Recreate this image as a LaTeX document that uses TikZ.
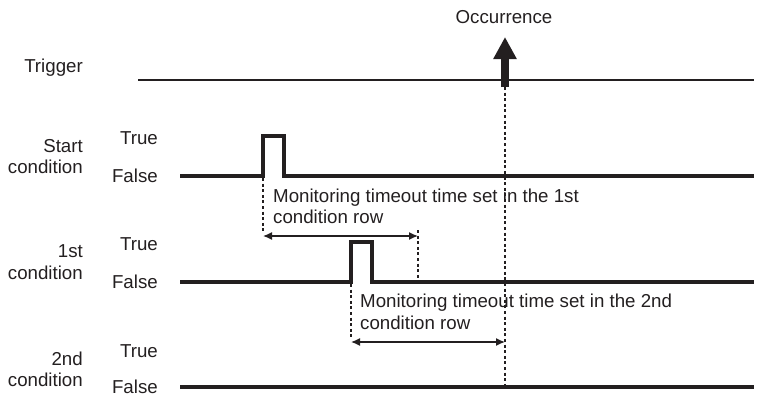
\documentclass[tikz,border=0pt]{standalone}
\usepackage{fontspec}
\setmainfont{Liberation Sans}
\usetikzlibrary{arrows.meta}
\definecolor{ink}{HTML}{231F20}
\begin{document}
\begin{tikzpicture}[x=1pt,y=-1pt,
  lbl/.style={font=\fontsize{18.7}{21}\selectfont, inner sep=0pt, text=ink},
  rowlbl/.style={lbl, anchor=base east},
  tf/.style={lbl, anchor=base east},
  note/.style={lbl, anchor=base west},
  wave/.style={draw=ink, line width=3.3pt, line join=miter},
  thin/.style={draw=ink, line width=1.6pt},
  dots/.style={draw=ink, line width=1.8pt, dash pattern=on 3pt off 2.6pt},
  span/.style={draw=ink, fill=ink, line width=1.4pt, {Latex[length=9pt,width=8pt]}-{Latex[length=9pt,width=8pt]}}
]
\useasboundingbox (0,0) rectangle (764,397);

% labels
\node[lbl, anchor=base] (occ) at (504,23) {Occurrence};
\node[rowlbl] (trig) at (83,72) {Trigger};
\node[rowlbl] (startc1) at (83,152) {Start};
\node[rowlbl] (startc2) at (83,173) {condition};
\node[rowlbl] (firstc1) at (83,257) {1st};
\node[rowlbl] (firstc2) at (83,279) {condition};
\node[rowlbl] (secondc1) at (83,365) {2nd};
\node[rowlbl] (secondc2) at (83,386) {condition};
\node[tf] (t1) at (158,144) {True};
\node[tf] (f1) at (158,182) {False};
\node[tf] (t2) at (158,250) {True};
\node[tf] (f2) at (158,288) {False};
\node[tf] (t3) at (158,357) {True};
\node[tf] (f3) at (158,393.5) {False};

% trigger line
\coordinate (tg0) at (138,80);
\coordinate (tg1) at (754,80);
\draw[thin] (tg0) -- (tg1);

% occurrence arrow
\coordinate (occbot) at (505,87);
\coordinate (occtop) at (505,37);
\draw[draw=ink, fill=ink, line width=7.5pt, -{Triangle[length=22pt,width=22pt]}] (occbot) -- (occtop);

% start condition waveform
\coordinate (s0) at (180,176);
\coordinate (sa) at (263,176);
\coordinate (sb) at (284,176);
\coordinate (s1) at (754,176);
\draw[wave] (s0) -- (sa) |- (284,136) -- (sb) -- (s1);

% 1st condition waveform
\coordinate (a0) at (180,282);
\coordinate (aa) at (351,282);
\coordinate (ab) at (372,282);
\coordinate (a1) at (754,282);
\draw[wave] (a0) -- (aa) |- (372,242) -- (ab) -- (a1);

% 2nd condition waveform
\coordinate (b0) at (180,387);
\coordinate (b1) at (754,387);
\draw[wave] (b0) -- (b1);

% monitoring window 1
\coordinate (m1a) at (263,236);
\coordinate (m1b) at (418,236);
\coordinate (m1bt) at (418,230);
\coordinate (m1bb) at (418,281);
\draw[dots] (sa) ++(0,2) -- ([yshift=4pt]m1a);
\draw[dots] (m1bt) -- (m1bb);
\draw[span] (m1a) -- (m1b);
\node[note] (n1a) at (273,202) {Monitoring timeout time set in the 1st};
\node[note] (n1b) at (273,223) {condition row};

% monitoring window 2
\coordinate (m2a) at (351,342);
\coordinate (m2b) at (505,342);
\draw[dots] (aa) ++(0,2) -- ([yshift=5pt]m2a);
\draw[span] (m2a) -- (m2b);
\node[note] (n2a) at (360,307) {Monitoring timeout time set in the 2nd};
\node[note] (n2b) at (360,329) {condition row};

% occurrence dotted line
\coordinate (occend) at (505,386);
\draw[dots] (occbot) -- (occend);
\end{tikzpicture}
\end{document}
